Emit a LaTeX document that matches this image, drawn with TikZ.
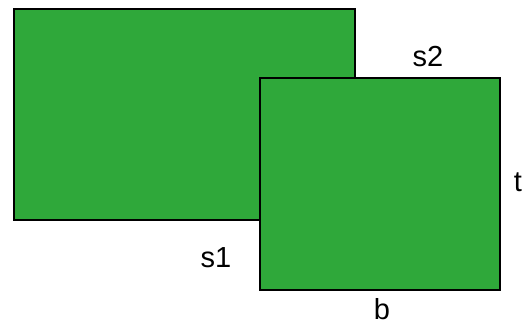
\documentclass[tikz,border=0pt]{standalone}
\usepackage{fontspec}
\setmainfont{Liberation Sans}
\definecolor{leaf}{RGB}{47,168,58}
\begin{document}
\begin{tikzpicture}[x=1pt,y=-1pt,
  box/.style={draw=black,fill=leaf,line width=1.3pt},
  lbl/.style={font=\fontsize{29}{29}\selectfont,inner sep=0pt,text=black}]
\useasboundingbox (0,0) rectangle (531,327);
\draw[box] (14,9) rectangle (355,220);
\draw[box] (260,78) rectangle (500,290);
\node[lbl] (s2) at (428,57) {s2};
\node[lbl] (t) at (518,182) {t};
\node[lbl] (s1) at (216,258) {s1};
\node[lbl] (b) at (382,309) {b};
\end{tikzpicture}
\end{document}
